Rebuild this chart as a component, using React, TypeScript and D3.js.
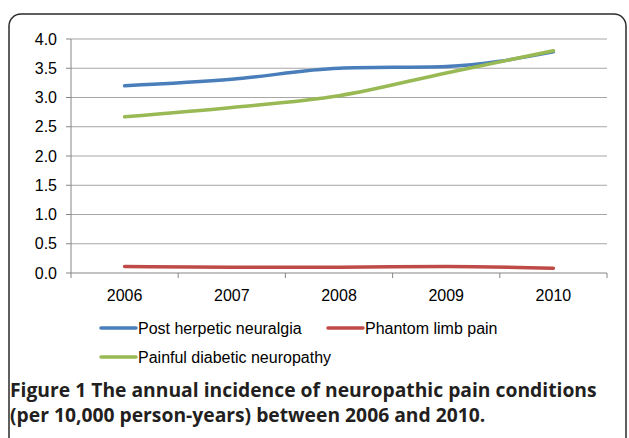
import * as d3 from "d3";

const years = ["2006", "2007", "2008", "2009", "2010"];
const postHerpetic = [3.2, 3.31, 3.5, 3.53, 3.78];
const phantomLimb = [0.11, 0.1, 0.1, 0.11, 0.08];
const diabetic = [2.67, 2.83, 3.03, 3.42, 3.8];
const yTicks = [0, 0.5, 1, 1.5, 2, 2.5, 3, 3.5, 4];

const series = [
    { name: "Post herpetic neuralgia", values: postHerpetic, color: "#4A7EBB" },
    { name: "Phantom limb pain", values: phantomLimb, color: "#BE4B48" },
    { name: "Painful diabetic neuropathy", values: diabetic, color: "#98B954" },
];

const captionLines = [
    "Figure 1 The annual incidence of neuropathic pain conditions",
    "(per 10,000 person-years) between 2006 and 2010.",
];

export default function App() {
    const width = 629;
    const height = 438;
    const margin = { top: 39, right: 22, left: 71, bottom: 165 };

    const xScale = d3
        .scaleBand()
        .domain(years)
        .range([margin.left, width - margin.right]);

    const yScale = d3
        .scaleLinear()
        .domain([0, 4])
        .range([height - margin.bottom, margin.top]);

    const line = d3
        .line<number>()
        .x((_, i) => (xScale(years[i]) ?? 0) + xScale.bandwidth() / 2)
        .y((d) => yScale(d))
        .curve(d3.curveMonotoneX);

    const x0 = margin.left;
    const x1 = width - margin.right;
    const yBase = yScale(0);
    const font = "'Liberation Sans', Arial, sans-serif";

    // legend layout: two items on first row, one on the second
    const legendPos = [
        { x: 101, y: 328 },
        { x: 328, y: 328 },
        { x: 101, y: 357 },
    ];

    return (
        <svg
            width={width}
            height={height}
            style={{ position: "absolute", left: 0, top: 0, background: "#fff" }}
        >
            <rect x={9} y={14} width={617} height={460} rx={12} fill="none" stroke="#2b2b2b" strokeWidth={1.5} />

            {yTicks.map((t) => (
                <g key={t}>
                    {t > 0 && (
                        <line x1={x0} x2={x1} y1={yScale(t)} y2={yScale(t)} stroke="#a6a6a6" strokeWidth={1} />
                    )}
                    <line x1={x0 - 5} x2={x0} y1={yScale(t)} y2={yScale(t)} stroke="#868686" />
                    <text
                        x={x0 - 14}
                        y={yScale(t)}
                        textAnchor="end"
                        dominantBaseline="central"
                        fontSize={16}
                        fontFamily={font}
                        fill="#000"
                    >
                        {t.toFixed(1)}
                    </text>
                </g>
            ))}

            <line x1={x0} x2={x0} y1={margin.top} y2={yBase} stroke="#868686" />
            <line x1={x0} x2={x1} y1={yBase} y2={yBase} stroke="#868686" />
            {years.map((y) => (
                <line
                    key={y}
                    x1={(xScale(y) ?? 0) + xScale.bandwidth()}
                    x2={(xScale(y) ?? 0) + xScale.bandwidth()}
                    y1={yBase}
                    y2={yBase + 5}
                    stroke="#868686"
                />
            ))}
            <line x1={x0} x2={x0} y1={yBase} y2={yBase + 5} stroke="#868686" />

            {years.map((y) => (
                <text
                    key={y}
                    x={(xScale(y) ?? 0) + xScale.bandwidth() / 2}
                    y={yBase + 22}
                    textAnchor="middle"
                    dominantBaseline="central"
                    fontSize={16}
                    fontFamily={font}
                >
                    {y}
                </text>
            ))}

            {series.map((s) => (
                <path
                    key={s.name}
                    d={line(s.values) ?? ""}
                    fill="none"
                    stroke={s.color}
                    strokeWidth={3.5}
                    strokeLinecap="round"
                />
            ))}

            {series.map((s, i) => (
                <g key={s.name} transform={`translate(${legendPos[i].x},${legendPos[i].y})`}>
                    <line x1={0} x2={35} y1={0} y2={0} stroke={s.color} strokeWidth={3.5} strokeLinecap="round" />
                    <text x={37} y={0} dominantBaseline="central" fontSize={16} fontFamily={font}>
                        {s.name}
                    </text>
                </g>
            ))}

            {captionLines.map((c, i) => (
                <text
                    key={i}
                    x={10}
                    y={397 + i * 25}
                    fontSize={19.3}
                    fontWeight="bold"
                    fontFamily="'Open Sans', sans-serif"
                    fill="#231f20"
                >
                    {c}
                </text>
            ))}
        </svg>
    );
}
